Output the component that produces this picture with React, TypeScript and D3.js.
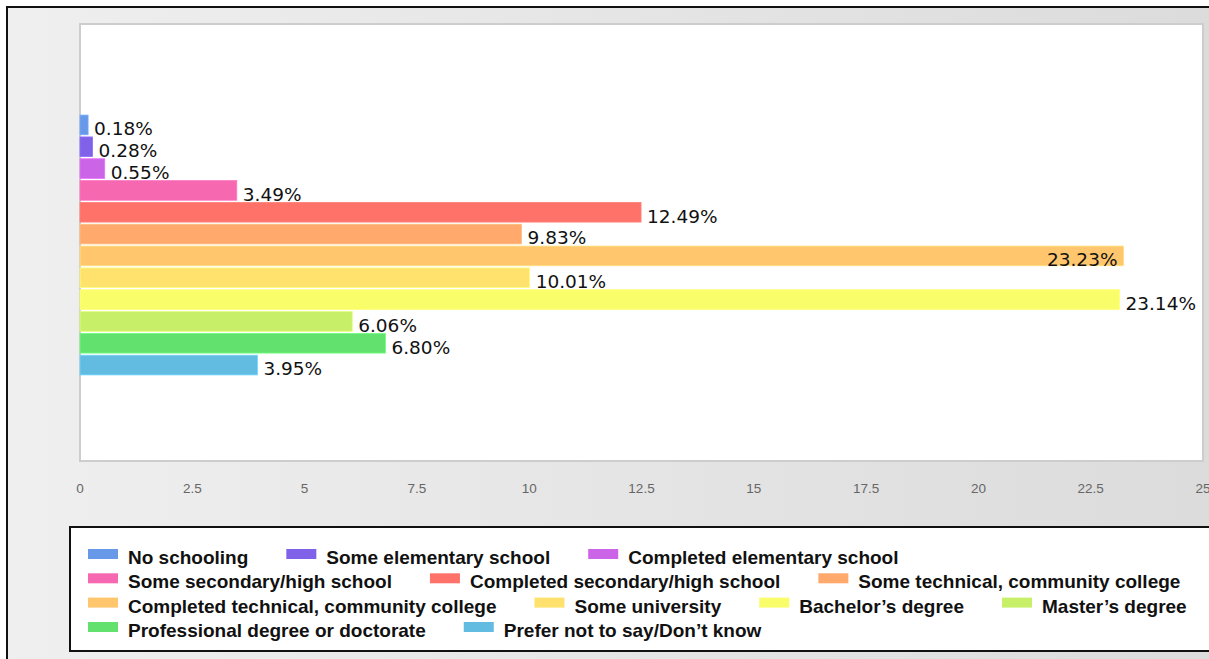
import React, { useEffect, useRef } from "react";
import * as d3 from "d3";

const categories = [
  "No schooling",
  "Some elementary school",
  "Completed elementary school",
  "Some secondary/high school",
  "Completed secondary/high school",
  "Some technical, community college",
  "Completed technical, community college",
  "Some university",
  "Bachelor’s degree",
  "Master’s degree",
  "Professional degree or doctorate",
  "Prefer not to say/Don’t know",
];
const values = [0.18, 0.28, 0.55, 3.49, 12.49, 9.83, 23.23, 10.01, 23.14, 6.06, 6.8, 3.95];
const colors = [
  "#6898e8",
  "#8062e8",
  "#cc64e8",
  "#f668b0",
  "#ff726a",
  "#ffa96c",
  "#ffc66e",
  "#ffe26d",
  "#fafd6a",
  "#c8ef68",
  "#62e16f",
  "#62bce2",
];
const xTicks = [0, 2.5, 5, 7.5, 10, 12.5, 15, 17.5, 20, 22.5, 25];

const W = 1209;
const H = 659;

export default function App() {
  const ref = useRef<SVGSVGElement | null>(null);

  useEffect(() => {
    const svg = d3.select(ref.current);
    svg.selectAll("*").remove();

    const defs = svg.append("defs");
    const grad = defs
      .append("linearGradient")
      .attr("id", "bg")
      .attr("x1", "0%")
      .attr("x2", "100%")
      .attr("y1", "0%")
      .attr("y2", "0%");
    grad.append("stop").attr("offset", "0%").attr("stop-color", "#efefef");
    grad.append("stop").attr("offset", "100%").attr("stop-color", "#dbdbdb");

    // background + outer frame
    svg.append("rect").attr("x", 0).attr("y", 0).attr("width", W).attr("height", H).attr("fill", "#ffffff");
    svg
      .append("rect")
      .attr("x", 7)
      .attr("y", 7)
      .attr("width", 1240)
      .attr("height", 700)
      .attr("fill", "url(#bg)")
      .attr("stroke", "#111")
      .attr("stroke-width", 2);

    const plot = { left: 80, top: 24, right: 1203, bottom: 461 };

    const x = d3.scaleLinear().domain([0, 25]).range([plot.left, plot.right]);
    const y = d3
      .scaleBand<string>()
      .domain(categories)
      .range([114, 376])
      .paddingInner(0.1)
      .paddingOuter(0.05);

    svg
      .append("rect")
      .attr("x", plot.left)
      .attr("y", plot.top)
      .attr("width", plot.right - plot.left)
      .attr("height", plot.bottom - plot.top)
      .attr("fill", "#ffffff")
      .attr("stroke", "#cdcdcd")
      .attr("stroke-width", 2);

    // bars
    const g = svg.append("g");
    categories.forEach((c, i) => {
      const v = values[i];
      const y0 = y(c)!;
      const bw = y.bandwidth();
      g.append("rect")
        .attr("x", x(0))
        .attr("y", y0)
        .attr("width", x(v) - x(0))
        .attr("height", bw)
        .attr("fill", colors[i])
        .attr("stroke", d3.color(colors[i])!.brighter(0.35).formatHex())
        .attr("stroke-width", 0.8);
    });

    // value labels
    categories.forEach((c, i) => {
      const v = values[i];
      const y0 = y(c)!;
      const bw = y.bandwidth();
      const t = g
        .append("text")
        .attr("font-family", "'DejaVu Sans', Verdana, sans-serif")
        .attr("font-size", 18.5)
        .attr("fill", "#111")
        .attr("y", y0 + bw + 0.5)
        .text(v.toFixed(2) + "%");
      const tw = (t.node() as SVGTextElement).getComputedTextLength();
      const xe = x(v);
      if (xe + 6 + tw > plot.right - 5) {
        t.attr("x", xe - 6).attr("text-anchor", "end");
      } else {
        t.attr("x", xe + 6).attr("text-anchor", "start");
      }
    });

    // x tick labels
    svg
      .append("g")
      .selectAll("text")
      .data(xTicks)
      .join("text")
      .attr("x", (d) => x(d))
      .attr("y", 493)
      .attr("text-anchor", "middle")
      .attr("font-family", "'Liberation Sans', Arial, sans-serif")
      .attr("font-size", 13.5)
      .attr("fill", "#666")
      .text((d) => String(d));

    // legend
    svg
      .append("rect")
      .attr("x", 70)
      .attr("y", 527)
      .attr("width", 1200)
      .attr("height", 124)
      .attr("fill", "#ffffff")
      .attr("stroke", "#111")
      .attr("stroke-width", 2);

    const lg = svg.append("g");
    const startX = 88;
    const maxRight = 1201;
    const rowTop = [549, 573.3, 597.6, 622];
    let cx = startX;
    let row = 0;
    categories.forEach((c, i) => {
      const item = lg.append("g");
      const t = item
        .append("text")
        .attr("font-family", "'Liberation Sans', Arial, sans-serif")
        .attr("font-weight", "bold")
        .attr("font-size", 19)
        .attr("fill", "#111")
        .text(c);
      const tw = (t.node() as SVGTextElement).getComputedTextLength();
      const iw = 40 + tw;
      if (cx > startX && cx + iw > maxRight) {
        row += 1;
        cx = startX;
      }
      const top = rowTop[row] ?? rowTop[0] + row * 24.3;
      item
        .append("rect")
        .attr("x", cx)
        .attr("y", top)
        .attr("width", 30)
        .attr("height", 10)
        .attr("fill", colors[i]);
      t.attr("x", cx + 40).attr("y", top + 15);
      cx += iw + 38;
    });
  }, []);

  return (
    <div style={{ position: "absolute", left: 0, top: 0 }}>
      <svg ref={ref} width={W} height={H} style={{ display: "block" }} />
    </div>
  );
}
